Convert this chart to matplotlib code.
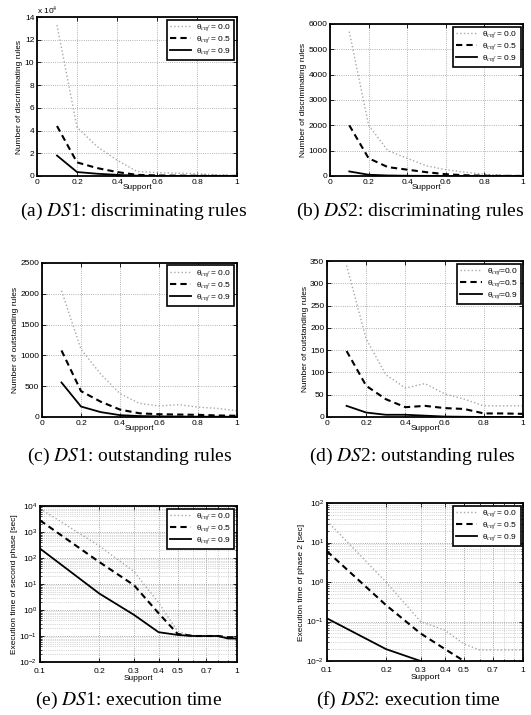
import numpy as np
import matplotlib
matplotlib.use("Agg")
import matplotlib.pyplot as plt
from matplotlib.ticker import FixedLocator, FuncFormatter, NullFormatter, LogLocator

plt.rcParams['font.family'] = ['Liberation Sans', 'DejaVu Sans']
plt.rcParams['mathtext.fontset'] = 'stix'

support = [0.1, 0.2, 0.3, 0.4, 0.5, 0.6, 0.7, 0.8, 0.9, 1.0]
thetas = ["0.0", "0.5", "0.9"]

# (a) DS1 discriminating rules
ds1_disc_00 = [133000, 43000, 26000, 14000, 4000, 3000, 2500, 2000, 1000, 500]
ds1_disc_05 = [44000, 12000, 7000, 3500, 1000, 500, 300, 200, 100, 50]
ds1_disc_09 = [18000, 3500, 2000, 1000, 300, 100, 50, 30, 20, 10]

# (b) DS2 discriminating rules
ds2_disc_00 = [5700, 2000, 1000, 700, 400, 250, 150, 70, 30, 10]
ds2_disc_05 = [2000, 700, 350, 250, 150, 70, 30, 10, 5, 2]
ds2_disc_09 = [180, 50, 20, 10, 5, 2, 1, 0, 0, 0]

# (c) DS1 outstanding rules
ds1_out_00 = [2050, 1100, 700, 380, 220, 180, 200, 160, 140, 100]
ds1_out_05 = [1080, 420, 250, 120, 60, 45, 40, 35, 25, 20]
ds1_out_09 = [560, 170, 80, 30, 15, 10, 8, 5, 5, 3]

# (d) DS2 outstanding rules
ds2_out_00 = [340, 175, 95, 65, 75, 52, 40, 25, 25, 25]
ds2_out_05 = [148, 70, 40, 22, 25, 20, 18, 8, 8, 7]
ds2_out_09 = [25, 10, 5, 5, 3, 1, 0.5, 0, 0, 0]

# (e) DS1 execution time [sec]
ds1_time_00 = [8000, 290, 30, 1.9, 0.15, 0.1, 0.1, 0.1, 0.09, 0.09]
ds1_time_05 = [2800, 70, 9, 0.75, 0.12, 0.1, 0.1, 0.1, 0.09, 0.09]
ds1_time_09 = [230, 4.3, 0.65, 0.14, 0.11, 0.1, 0.1, 0.1, 0.08, 0.08]

# (f) DS2 execution time [sec]
ds2_time_00 = [35, 1.0, 0.1, 0.06, 0.027, 0.019, 0.019, 0.019, 0.019, 0.019]
ds2_time_05 = [6, 0.26, 0.05, 0.02, 0.01]
ds2_time_09 = [0.12, 0.02, 0.01]

captions = ["(a) $\\mathit{DS}$1: discriminating rules",
            "(b) $\\mathit{DS}$2: discriminating rules",
            "(c) $\\mathit{DS}$1: outstanding rules",
            "(d) $\\mathit{DS}$2: outstanding rules",
            "(e) $\\mathit{DS}$1: execution time",
            "(f) $\\mathit{DS}$2: execution time"]

fig = plt.figure(figsize=(5.31, 7.15), dpi=100)

W, H = 531.0, 715.0
def add_ax(l, t, r, b):
    return fig.add_axes([l / W, 1 - b / H, (r - l) / W, (b - t) / H])

axa = add_ax(37, 17, 237, 176)
axb = add_ax(330, 24, 523, 176)
axc = add_ax(42, 263, 237, 417)
axd = add_ax(327, 261, 523, 417)
axe = add_ax(40, 506, 237, 662)
axf = add_ax(327, 503, 523, 661)

styles = [dict(color='#a8a8a8', linestyle=':', linewidth=1.0),
          dict(color='black', linestyle=(0, (3, 2)), linewidth=1.5),
          dict(color='black', linestyle='-', linewidth=1.3)]

def draw(ax, series, compact=False):
    for i, ys in enumerate(series):
        sep = "=" if compact else " = "
        ax.plot(support[:len(ys)], ys, label="\u03b8$_{cnf}$" + sep + thetas[i], **styles[i])
    ax.tick_params(direction='in', length=3, width=0.6, labelsize=6, pad=2,
                   top=True, right=True)
    ax.tick_params(which='minor', direction='in', length=1.5, width=0.5,
                   top=True, right=True)
    for s in ax.spines.values():
        s.set_linewidth(1.3)
    leg = ax.legend(loc='upper right', fontsize=6, fancybox=False,
                    edgecolor='black', framealpha=1, borderaxespad=0.3,
                    handlelength=2.6, labelspacing=0.15, borderpad=0.35,
                    handletextpad=0.6)
    leg.get_frame().set_linewidth(1.2)
    ax.set_xlabel("Support", fontsize=6, labelpad=-1)

def linear_setup(ax, ymax, ystep):
    ax.set_xlim(0, 1)
    ax.set_ylim(0, ymax)
    ax.set_xticks([0, 0.2, 0.4, 0.6, 0.8, 1.0])
    ax.set_xticklabels(["0", "0.2", "0.4", "0.6", "0.8", "1"])
    ax.set_yticks(np.arange(0, ymax + ystep / 2, ystep))
    ax.grid(True, linestyle=':', color='#9a9a9a', linewidth=0.6)

def log_setup(ax, ylo, yhi):
    ax.set_xscale('log')
    ax.set_yscale('log')
    ax.set_xlim(0.1, 1)
    ax.set_ylim(ylo, yhi)
    ax.xaxis.set_major_locator(FixedLocator([0.1, 0.2, 0.3, 0.4, 0.5, 0.7, 1.0]))
    ax.xaxis.set_major_formatter(FuncFormatter(lambda v, p: "1" if v == 1 else f"{v:g}"))
    ax.xaxis.set_minor_locator(FixedLocator([0.6, 0.8, 0.9]))
    ax.xaxis.set_minor_formatter(NullFormatter())
    ax.yaxis.set_major_locator(LogLocator(base=10, numticks=10))
    ax.yaxis.set_minor_locator(LogLocator(base=10, subs=np.arange(2, 10), numticks=10))
    ax.yaxis.set_minor_formatter(NullFormatter())
    ax.tick_params(axis='x', pad=4)
    ax.grid(True, which='major', linestyle=':', color='#8a8a8a', linewidth=0.6)
    ax.grid(True, which='minor', linestyle=':', color='#b0b0b0', linewidth=0.5)

# (a)
draw(axa, [ds1_disc_00, ds1_disc_05, ds1_disc_09])
linear_setup(axa, 140000, 20000)
axa.yaxis.set_major_formatter(FuncFormatter(lambda v, p: f"{v / 10000:g}"))
axa.text(0.0, 1.005, "x 10$^4$", transform=axa.transAxes, fontsize=6,
         ha='left', va='bottom')
axa.set_ylabel("Number of discriminating rules", fontsize=6, labelpad=1)

# (b)
draw(axb, [ds2_disc_00, ds2_disc_05, ds2_disc_09])
linear_setup(axb, 6000, 1000)
axb.set_ylabel("Number of discriminating rules", fontsize=6, labelpad=1)

# (c)
draw(axc, [ds1_out_00, ds1_out_05, ds1_out_09])
linear_setup(axc, 2500, 500)
axc.set_ylabel("Number of outstanding rules", fontsize=6, labelpad=1)

# (d)
draw(axd, [ds2_out_00, ds2_out_05, ds2_out_09], compact=True)
linear_setup(axd, 350, 50)
axd.set_ylabel("Number of outstanding rules", fontsize=6, labelpad=1)

# (e)
draw(axe, [ds1_time_00, ds1_time_05, ds1_time_09])
log_setup(axe, 1e-2, 1e4)
axe.set_xlabel("Support", fontsize=6, labelpad=0)
axe.set_ylabel("Execution time of second phase [sec]", fontsize=6, labelpad=1)

# (f)
draw(axf, [ds2_time_00, ds2_time_05, ds2_time_09])
log_setup(axf, 1e-2, 1e2)
axf.set_xlabel("Support", fontsize=6, labelpad=0)
axf.set_ylabel("Execution time of phase 2 [sec]", fontsize=6, labelpad=1)

cap_x = [134, 410, 130, 412, 129, 408]
cap_y = [211, 211, 456, 456, 700, 700]
for c, cx, cy in zip(captions, cap_x, cap_y):
    fig.text(cx / W, 1 - cy / H, c, fontsize=14, family='Liberation Serif',
             ha='center', va='center')

fig.savefig("out.png", dpi=100)
